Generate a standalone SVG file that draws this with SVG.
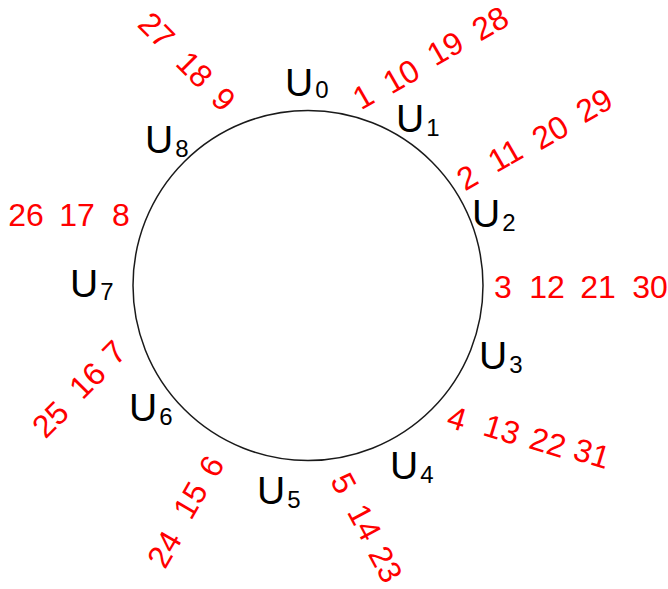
<svg xmlns="http://www.w3.org/2000/svg" width="668" height="589" viewBox="0 0 668 589">
<style>
.u{font-family:"Liberation Sans",Arial,sans-serif;font-size:39px;fill:#000}
.u tspan{font-size:24px}
.n{font-family:"Liberation Sans",Arial,sans-serif;font-size:32px;fill:#ff0000;text-anchor:middle}
</style>
<rect width="668" height="589" fill="#fff"/>
<g id="ring">
<circle cx="308" cy="285.5" r="175" fill="none" stroke="#1a1a1a" stroke-width="1.5"/>
</g>
<g id="U0"><text class="u" x="285" y="96">U<tspan dx="2" dy="2">0</tspan></text></g>
<g id="U1"><text class="u" x="396" y="132">U<tspan dx="2" dy="4">1</tspan></text></g>
<g id="U2"><text class="u" x="472" y="227">U<tspan dx="2" dy="4">2</tspan></text></g>
<g id="U3"><text class="u" x="479" y="369">U<tspan dx="2" dy="4">3</tspan></text></g>
<g id="U4"><text class="u" x="390" y="479">U<tspan dx="2" dy="4">4</tspan></text></g>
<g id="U5"><text class="u" x="257" y="504">U<tspan dx="2" dy="4">5</tspan></text></g>
<g id="U6"><text class="u" x="129" y="421">U<tspan dx="2" dy="4">6</tspan></text></g>
<g id="U7"><text class="u" x="70" y="297">U<tspan dx="2" dy="3">7</tspan></text></g>
<g id="U8"><text class="u" x="145" y="153">U<tspan dx="2" dy="4">8</tspan></text></g>

<g id="seq1">
<text class="n" transform="translate(363,96) rotate(-30)" y="11.5">1</text>
<text class="n" transform="translate(401,76) rotate(-30)" y="11.5">10</text>
<text class="n" transform="translate(445,48) rotate(-30)" y="11.5">19</text>
<text class="n" transform="translate(490,23) rotate(-30)" y="11.5">28</text>
</g>
<g id="seq2">
<text class="n" transform="translate(467,177) rotate(-30)" y="11.5">2</text>
<text class="n" transform="translate(505,155) rotate(-30)" y="11.5">11</text>
<text class="n" transform="translate(550,132) rotate(-30)" y="11.5">20</text>
<text class="n" transform="translate(594,105) rotate(-30)" y="11.5">29</text>
</g>
<g id="seq3">
<text class="n" transform="translate(503,286)" y="11.5">3</text>
<text class="n" transform="translate(547,286)" y="11.5">12</text>
<text class="n" transform="translate(598,286)" y="11.5">21</text>
<text class="n" transform="translate(650,286)" y="11.5">30</text>
</g>
<g id="seq4">
<text class="n" transform="translate(457,418) rotate(17)" y="11.5">4</text>
<text class="n" transform="translate(502,429) rotate(17)" y="11.5">13</text>
<text class="n" transform="translate(548,442) rotate(17)" y="11.5">22</text>
<text class="n" transform="translate(592,453) rotate(17)" y="11.5">31</text>
</g>
<g id="seq5">
<text class="n" transform="translate(344,483) rotate(62)" y="11.5">5</text>
<text class="n" transform="translate(365,522) rotate(62)" y="11.5">14</text>
<text class="n" transform="translate(386,564) rotate(62)" y="11.5">23</text>
</g>
<g id="seq6">
<text class="n" transform="translate(211,466) rotate(-60)" y="11.5">6</text>
<text class="n" transform="translate(190,500) rotate(-60)" y="11.5">15</text>
<text class="n" transform="translate(164,549) rotate(-60)" y="11.5">24</text>
</g>
<g id="seq7">
<text class="n" transform="translate(114,352) rotate(-45)" y="11.5">7</text>
<text class="n" transform="translate(87,380) rotate(-45)" y="11.5">16</text>
<text class="n" transform="translate(50,419) rotate(-45)" y="11.5">25</text>
</g>
<g id="seq8">
<text class="n" transform="translate(121,214)" y="11.5">8</text>
<text class="n" transform="translate(77,214)" y="11.5">17</text>
<text class="n" transform="translate(26,214)" y="11.5">26</text>
</g>
<g id="seq9">
<text class="n" transform="translate(224,99) rotate(45)" y="11.5">9</text>
<text class="n" transform="translate(195,69) rotate(45)" y="11.5">18</text>
<text class="n" transform="translate(157,30) rotate(45)" y="11.5">27</text>
</g>
</svg>
